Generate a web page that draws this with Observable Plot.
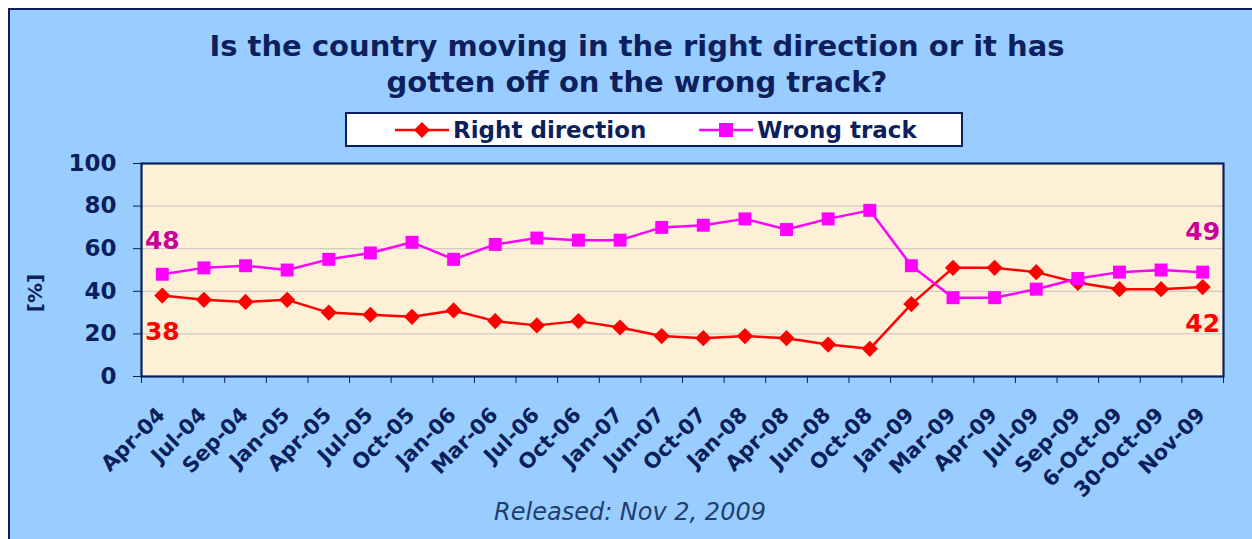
<!DOCTYPE html>
<html>
<head>
<meta charset="utf-8">
<script src="https://cdn.jsdelivr.net/npm/d3@7"></script>
<script src="https://cdn.jsdelivr.net/npm/@observablehq/plot@0.6"></script>
<style>
  html, body { margin: 0; padding: 0; background: #ffffff; overflow: hidden; width: 1252px; height: 539px; }
  #frame { position: absolute; left: 8px; top: 8px; width: 1300px; height: 600px; background: #99ccff; border: 2px solid #0b1f5c; box-sizing: border-box; }
  .title { position: absolute; left: 0; width: 1274px; top: 28px; text-align: center; font-family: Verdana, "DejaVu Sans", sans-serif; font-weight: bold; font-size: 29px; line-height: 36px; color: #0d1f5c; }
  #legend { position: absolute; left: 345px; top: 112px; width: 618px; height: 35px; box-sizing: border-box; background: #ffffff; border: 2px solid #0b1f5c; font-family: Verdana, "DejaVu Sans", sans-serif; font-weight: bold; font-size: 23px; color: #0d1f5c; }
  .item { position: absolute; top: 0; height: 31px; display: flex; align-items: center; }
  .item svg { margin-right: 4px; }
  #caption { position: absolute; left: 0; width: 1260px; top: 500px; text-align: center; font-family: Verdana, "DejaVu Sans", sans-serif; font-style: italic; font-size: 24px; line-height: 24px; color: #21406c; }
  #chart { position: absolute; left: 0; top: 0; }
</style>
</head>
<body>
<div id="frame"></div>
<div id="chart"></div>
<div class="title">Is the country moving in the right direction or it has<br>gotten off on the wrong track?</div>
<div id="legend"></div>
<div id="caption">Released: Nov 2, 2009</div>
<script>
const periods = ["Apr-04","Jul-04","Sep-04","Jan-05","Apr-05","Jul-05","Oct-05","Jan-06","Mar-06","Jul-06","Oct-06","Jan-07","Jun-07","Oct-07","Jan-08","Apr-08","Jun-08","Oct-08","Jan-09","Mar-09","Apr-09","Jul-09","Sep-09","6-Oct-09","30-Oct-09","Nov-09"];
const rightDirection = [38,36,35,36,30,29,28,31,26,24,26,23,19,18,19,18,15,13,34,51,51,49,44,41,41,42];
const wrongTrack = [48,51,52,50,55,58,63,55,62,65,64,64,70,71,74,69,74,78,52,37,37,41,46,49,50,49];
const seriesNames = ["Right direction", "Wrong track"];
const seriesColors = ["#ff0000", "#ff00ff"];
const labelColors = ["#ff0000", "#cc0099"];
const yTicks = [0, 20, 40, 60, 80, 100];

const navy = "#0b1f5c";
const font = "Verdana, 'DejaVu Sans', sans-serif";

const rows = [];
periods.forEach((p, i) => {
  rows.push({i, period: p, series: seriesNames[0], value: rightDirection[i]});
  rows.push({i, period: p, series: seriesNames[1], value: wrongTrack[i]});
});
const last = periods.length - 1;

function endLabel(i, values, color, dy) {
  return Plot.text([{i, value: values[i]}], {x: "i", y: "value", text: d => String(d.value), fill: color, dy, fontSize: 25, fontWeight: "bold"});
}

const chart = Plot.plot({
  width: 1252,
  height: 539,
  marginLeft: 141,
  marginRight: 29,
  marginTop: 163,
  marginBottom: 163,
  style: {fontFamily: font, background: "transparent", color: navy, overflow: "visible"},
  x: {type: "linear", domain: [-0.5, periods.length - 0.5]},
  y: {domain: [0, 100]},
  color: {domain: seriesNames, range: seriesColors},
  marks: [
    Plot.frame({fill: "#fdf0d7", stroke: null}),
    Plot.ruleY([20, 40, 60, 80], {stroke: "#cfcbc4", strokeWidth: 1.2}),
    Plot.frame({stroke: navy, strokeWidth: 2.2}),
    Plot.axisY({ticks: yTicks, tickSize: 8, tickPadding: 17, fontSize: 23, fontWeight: "bold", stroke: navy, fill: navy, label: null}),
    Plot.text(["[%]"], {frameAnchor: "left", textAnchor: "middle", dx: -106, dy: 23, rotate: -90, fontSize: 20, fontWeight: "bold", fill: navy}),
    Plot.axisX({ticks: d3.range(-0.5, periods.length, 1), tickSize: 7, tickFormat: () => "", stroke: navy, label: null}),
    Plot.axisX({ticks: d3.range(periods.length), tickSize: 0, tickPadding: 35, dx: -1, tickRotate: -45, tickFormat: i => periods[i], fontSize: 21, fontWeight: "bold", fill: navy, label: null}),
    Plot.line(rows, {x: "i", y: "value", z: "series", stroke: "series", strokeWidth: 2.5}),
    Plot.dot(rows.filter(d => d.series === seriesNames[0]), {x: "i", y: "value", symbol: "diamond2", r: 7.3, fill: seriesColors[0], stroke: null}),
    Plot.dot(rows.filter(d => d.series === seriesNames[1]), {x: "i", y: "value", symbol: "square", r: 7.3, fill: seriesColors[1], stroke: null}),
    endLabel(0, wrongTrack, labelColors[1], -33),
    endLabel(0, rightDirection, labelColors[0], 36),
    endLabel(last, wrongTrack, labelColors[1], -40),
    endLabel(last, rightDirection, labelColors[0], 37)
  ]
});
document.getElementById("chart").appendChild(chart);

// legend
const legend = document.getElementById("legend");
const positions = [[48, 352]];
seriesNames.forEach((name, k) => {
  const item = document.createElement("div");
  item.className = "item";
  item.style.left = positions[0][k] + "px";
  const sym = k === 0
    ? `<polygon points="27,4 35,12 27,20 19,12" fill="${seriesColors[k]}"/>`
    : `<rect x="20" y="5" width="14" height="14" fill="${seriesColors[k]}"/>`;
  item.innerHTML = `<svg width="54" height="24"><line x1="0" x2="54" y1="12" y2="12" stroke="${seriesColors[k]}" stroke-width="2.5"/>${sym}</svg><span>${name}</span>`;
  legend.appendChild(item);
});
</script>
</body>
</html>
